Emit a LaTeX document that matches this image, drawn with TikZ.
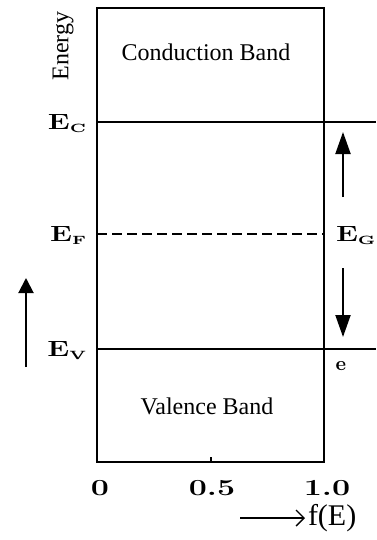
\documentclass[tikz,border=0pt]{standalone}
\usepackage{fontspec}
\usepackage{graphicx}
\usetikzlibrary{positioning}
\usetikzlibrary{arrows.meta}
\newfontfamily\tnr{Liberation Serif}
\newcommand{\lvlab}[2]{\scalebox{1.35}[1]{\fontsize{11}{13}\selectfont\bfseries #1\raisebox{-1.5pt}{\fontsize{6}{7}\selectfont #2}}}
\newcommand{\numlab}[1]{\scalebox{1.4}[1]{\fontsize{11.5}{13}\selectfont\bfseries #1}}

\begin{document}
\begin{tikzpicture}[x=0.5pt, y=-0.5pt, line width=1pt,
  band/.style={font=\tnr\fontsize{12}{14}\selectfont},
  lvl/.style={anchor=east, inner sep=0pt},
  gaparrow/.style={-{Triangle[width=7.5pt,length=11pt]}},
  uparrow/.style={-{Triangle[width=7.5pt,length=7.5pt]}}]
  \useasboundingbox (0,0) rectangle (376,540);

  % Box
  \coordinate (tl) at (97,8);
  \coordinate (br) at (324,462);
  \draw (tl) rectangle (br);

  % Levels
  \coordinate (cl) at (97,122);  \coordinate (cr) at (376,122);
  \coordinate (fl) at (97,234);  \coordinate (fr) at (324,234);
  \coordinate (vl) at (97,349);  \coordinate (vr) at (376,349);
  \draw (cl) -- (cr);
  \draw[dash pattern=on 5pt off 2.5pt] (fl) -- (fr);
  \draw (vl) -- (vr);

  % Tick at 0.5
  \coordinate (t0) at (211,462);
  \coordinate (t1) at (211,457);
  \draw (t0) -- (t1);

  % Labels
  \node[band] (cb) at (206,52) {Conduction Band};
  \node[band] (vb) at (207,406) {Valence Band};
  \node[font=\tnr\fontsize{12}{14}\selectfont, rotate=90] (energy) at (63,46) {Energy};
  \node[lvl] (EC) at (87,124) {\lvlab{E}{C}};
  \node[lvl] (EF) at (87,236) {\lvlab{E}{F}};
  \node[lvl] (EV) at (87,351) {\lvlab{E}{V}};
  \node[lvl, anchor=west] (EG) at (335,236) {\lvlab{E}{G}};
  \node[font=\fontsize{10}{12}\selectfont\bfseries] (e) at (341,366) {e};

  % Axis values
  \node (n0) at (100,488) {\numlab{0}};
  \node (n5) at (212,488) {\numlab{0.5}};
  \node (n10) at (327,488) {\numlab{1.0}};

  % Gap arrows
  \coordinate (gu0) at (343,197);  \coordinate (gu1) at (343,132);
  \coordinate (gd0) at (343,268);  \coordinate (gd1) at (343,337);
  \draw[gaparrow] (gu0) -- (gu1);
  \draw[gaparrow] (gd0) -- (gd1);

  % Energy arrow
  \coordinate (ea0) at (26,367);
  \coordinate (ea1) at (26,278);
  \draw[uparrow] (ea0) -- (ea1);

  % f(E)
  \node[font=\tnr\fontsize{15}{17}\selectfont, anchor=west, inner sep=1pt] (fE) at (305,518) {f(E)};
  \coordinate (fa) at (240,518);
  \draw[-{Straight Barb[length=4pt,width=8pt]}, line width=0.7pt] (fa) -- (fE.west);
\end{tikzpicture}
\end{document}
